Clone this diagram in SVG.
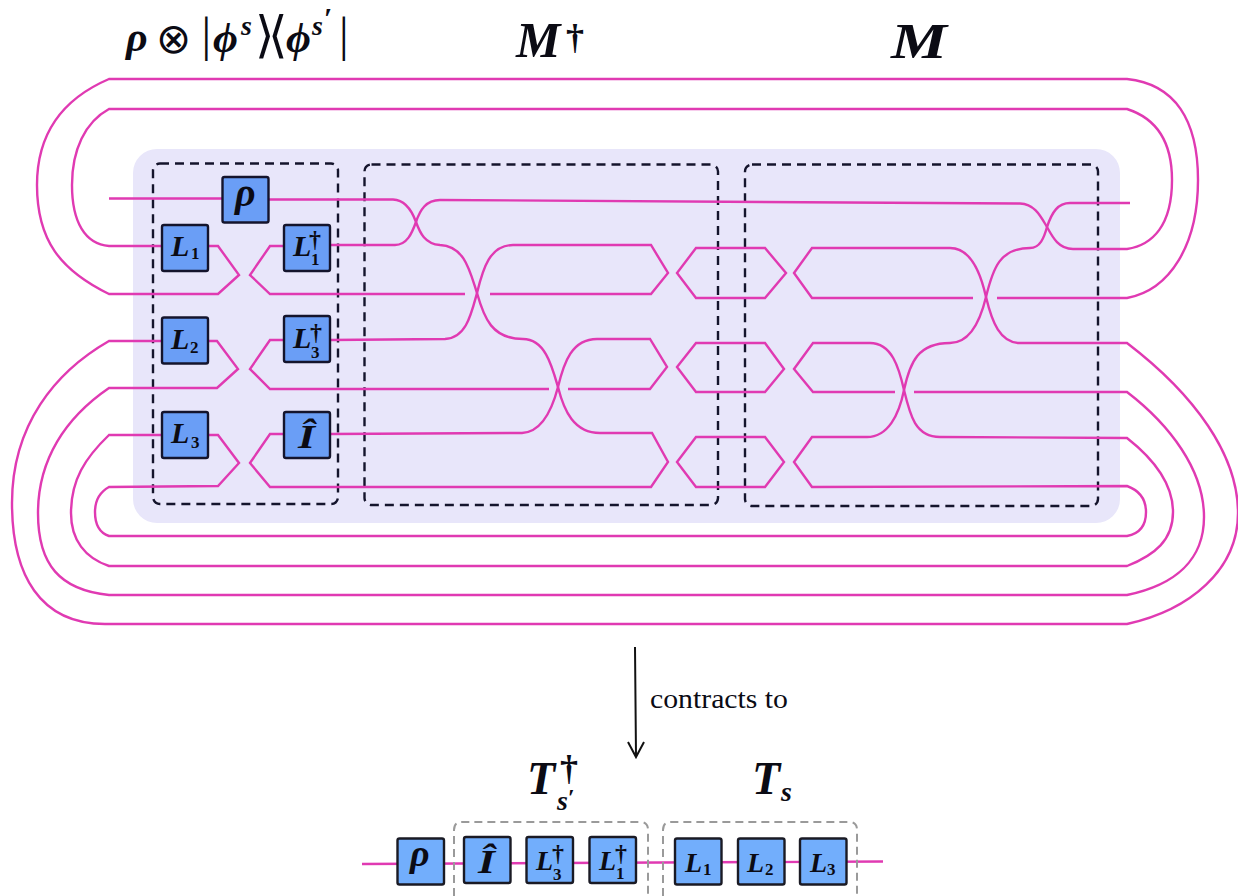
<svg xmlns="http://www.w3.org/2000/svg" width="1238" height="896" viewBox="0 0 1238 896">
<style>
text{fill:#0b0b14}
.m{font-family:"Liberation Serif","DejaVu Serif",serif;font-weight:bold;font-style:italic}
.n{font-family:"Liberation Serif","DejaVu Serif",serif;font-weight:bold;font-style:normal}
.y{font-family:"DejaVu Sans",sans-serif;font-weight:normal;font-style:normal}
.r{font-family:"Liberation Serif","DejaVu Serif",serif;font-weight:normal;font-style:normal}
.w{fill:none;stroke:#e03ab2;stroke-width:2.4;stroke-linejoin:miter}
.b{fill:#6a9ef6;stroke:#14142c;stroke-width:2.4}
.b2{fill:#72aefc;stroke:#1a1a24;stroke-width:2.4}
.d{fill:none;stroke:#14142c;stroke-width:2.4;stroke-dasharray:9 6}
.g{fill:none;stroke:#9a9a9a;stroke-width:2;stroke-dasharray:8 5}
.L{font-size:30px}.s{font-size:17px}.t{font-size:24px}
</style>
<rect id="background" x="133" y="149" width="987" height="374" rx="24" fill="#e8e6fa"/>
<g id="frames">
<rect class="d" x="153" y="163.5" width="185" height="340.5" rx="7"/>
<rect class="d" x="364.5" y="164.5" width="353.5" height="340.5" rx="7"/>
<rect class="d" x="745" y="164.5" width="353" height="341.5" rx="7"/>
</g>
<g id="connectors">
<path class="w" d="M109,198.5H222M269,199.5H393C406,200 412,211 416,222C420,233 425,244 440,245C465,246 470,272 477,293C484,318 492,339 523,339C545,339 552,366 558,387C564,411 574,433 600,433H652L668,462L651,487H270L250,463L270,434H283"/>
<path class="w" d="M330,245H395C407,245 412,233 416,222C420,210 426,200 440,200L1020,203.5C1035,204 1041,217 1047,227C1053,238 1059,249 1073,249H1127C1153,245 1172,225 1172,180C1172,140 1155,118 1127,109H109C85,122 72,150 72,185C72,222 85,244 109,246H161"/>
<path class="w" d="M330,340L445,339C466,338 471,315 477,293C483,268 490,245 513,245H651L668,273L651,294H490M465,294H270L250,275L270,246H283"/>
<path class="w" d="M330,434L522,433C542,432 552,410 558,387C564,362 572,339 597,339H650L667,367L650,389H568M549,389H270L250,369L270,340H283"/>
<path class="w" d="M696,248H765L786,273L765,298H696L677,273ZM696,343H765L784,369L765,392H696L677,367ZM696,437H765L784,462L765,487H696L677,462Z"/>
<path class="w" d="M209,246H218L239,275L218,294H109C60,270 37,240 37,185C37,135 60,100 109,79H1127C1175,84 1198,120 1198,180C1198,245 1170,290 1127,298H997M973,298H812L794,273L812,248H950C970,248 980,270 986,297C992,322 1000,343 1020,343H1127C1195,395 1238,455 1238,513C1238,570 1190,610 1127,624H105C40,624 12,575 12,503C12,425 55,372 109,341H161"/>
<path class="w" d="M209,341H217L238,369L217,388H109C65,418 38,460 38,513C38,565 60,590 109,595H1127C1175,585 1204,560 1204,517C1204,470 1170,425 1127,392H914M895,392H813L794,369L813,343H870C892,343 899,368 904,390C910,415 915,437 940,437L1127,438C1155,460 1173,485 1173,512C1173,540 1155,555 1127,566H109C85,558 71,540 71,513C71,480 85,458 109,435H161"/>
<path class="w" d="M209,435H218L239,463L218,486L109,487C100,492 95,500 95,512C95,525 100,533 109,536H1127C1138,534 1146,527 1146,512C1146,498 1138,490 1127,486L812,487L794,462L812,437H867C888,437 899,415 904,390C910,362 918,343 950,343C970,343 980,322 986,297C993,268 1000,248 1030,248C1040,248 1044,238 1047,227C1052,212 1058,203 1070,203H1130"/>
<path class="w" d="M362,864L883,861.5"/>
</g>
<g id="node-rho"><rect class="b" x="222.5" y="177" width="46" height="45.5" rx="2"/><text class="m" x="235" y="206" font-size="40">ρ</text></g>
<g id="node-L1"><rect class="b" x="162" y="225" width="46" height="46" rx="2"/><text class="m L" x="171" y="256">L<tspan class="n s" x="191" y="259">1</tspan></text></g>
<g id="node-L1-dag"><rect class="b" x="284" y="225" width="46" height="46" rx="2"/><text class="m L" x="293" y="256">L<tspan class="n t" x="309" y="247">†</tspan><tspan class="n s" x="311" y="265">1</tspan></text></g>
<g id="node-L2"><rect class="b" x="162" y="317.5" width="46" height="46" rx="2"/><text class="m L" x="171" y="349">L<tspan class="n s" x="190" y="353">2</tspan></text></g>
<g id="node-L3-dag"><rect class="b" x="284" y="316" width="46" height="46" rx="2"/><text class="m L" x="293" y="348">L<tspan class="n t" x="310" y="340">†</tspan><tspan class="n s" x="311" y="358">3</tspan></text></g>
<g id="node-L3"><rect class="b" x="162" y="412" width="46" height="46" rx="2"/><text class="m L" x="171" y="443">L<tspan class="n s" x="191" y="447.5">3</tspan></text></g>
<g id="node-I"><rect class="b" x="284" y="412" width="46" height="46" rx="2"/><text class="m" x="298" y="448" font-size="34" textLength="17" lengthAdjust="spacingAndGlyphs">Î</text></g>
<g id="title-1">
<text class="m" x="126" y="51" font-size="42">ρ<tspan class="y" x="156" y="53">⊗</tspan><tspan class="r" x="201.5" y="51" font-size="48">|</tspan><tspan x="213" y="52" font-size="43">ϕ</tspan><tspan x="241" y="35" font-size="28">s</tspan><tspan class="r" x="255" y="52" font-size="50">⟩</tspan><tspan class="r" x="268" y="52" font-size="50">⟨</tspan><tspan x="286" y="52" font-size="43">ϕ</tspan><tspan x="312" y="35" font-size="28">s</tspan><tspan class="n" x="324" y="28" font-size="30">′</tspan><tspan class="r" x="339" y="51" font-size="48">|</tspan></text>
</g>
<g id="title-2"><text class="m" x="516" y="57" font-size="50">M<tspan class="n" x="566" y="49" font-size="36">†</tspan></text></g>
<g id="title-3"><text class="m" x="891" y="58" font-size="50" textLength="56" lengthAdjust="spacingAndGlyphs">M</text></g>
<g id="group-T-dag"><path class="g" d="M454,896V830Q454,822 462,822H640Q648,822 648,830V896"/><text class="m" x="527" y="794" font-size="46">T<tspan class="n" x="560" y="780" font-size="36">†</tspan><tspan x="557" y="810" font-size="28">s</tspan><tspan class="n" x="568" y="805" font-size="24">′</tspan></text></g>
<g id="group-T"><path class="g" d="M663,896V830Q663,822 671,822H849Q857,822 857,830V896"/><text class="m" x="752" y="794" font-size="46">T<tspan x="781" y="801" font-size="28">s</tspan></text></g>
<g id="node-b-rho"><rect class="b2" x="397.5" y="838.5" width="46.5" height="46" rx="2"/><text class="m" x="410" y="866" font-size="38">ρ</text></g>
<g id="node-b-I"><rect class="b2" x="464" y="837" width="46.5" height="46" rx="2"/><text class="m" x="478" y="873" font-size="34" textLength="17" lengthAdjust="spacingAndGlyphs">Î</text></g>
<g id="node-b-L3-dag"><rect class="b2" x="526.5" y="837" width="46.5" height="46" rx="2"/><text class="m" x="536" y="870" font-size="28">L<tspan class="n t" x="552" y="861">†</tspan><tspan class="n s" x="553" y="880">3</tspan></text></g>
<g id="node-b-L1-dag"><rect class="b2" x="589.5" y="837" width="46.5" height="46" rx="2"/><text class="m" x="599" y="870" font-size="28">L<tspan class="n t" x="615" y="861">†</tspan><tspan class="n s" x="616" y="879">1</tspan></text></g>
<g id="node-b-L1"><rect class="b2" x="675" y="838.5" width="46.5" height="46" rx="2"/><text class="m" x="685" y="872" font-size="28">L<tspan class="n s" x="703" y="875">1</tspan></text></g>
<g id="node-b-L2"><rect class="b2" x="738" y="838.5" width="46.5" height="46" rx="2"/><text class="m" x="747" y="872" font-size="28">L<tspan class="n s" x="765" y="875">2</tspan></text></g>
<g id="node-b-L3"><rect class="b2" x="800" y="838.5" width="46.5" height="46" rx="2"/><text class="m" x="810" y="872" font-size="28">L<tspan class="n s" x="827" y="875">3</tspan></text></g>
<g id="arrow"><path d="M635,647L636,756M628,742L636,757L644,742" fill="none" stroke="#111" stroke-width="2"/></g>
<text class="r" x="650" y="708" font-size="27" textLength="138" lengthAdjust="spacingAndGlyphs">contracts to</text>
</svg>
